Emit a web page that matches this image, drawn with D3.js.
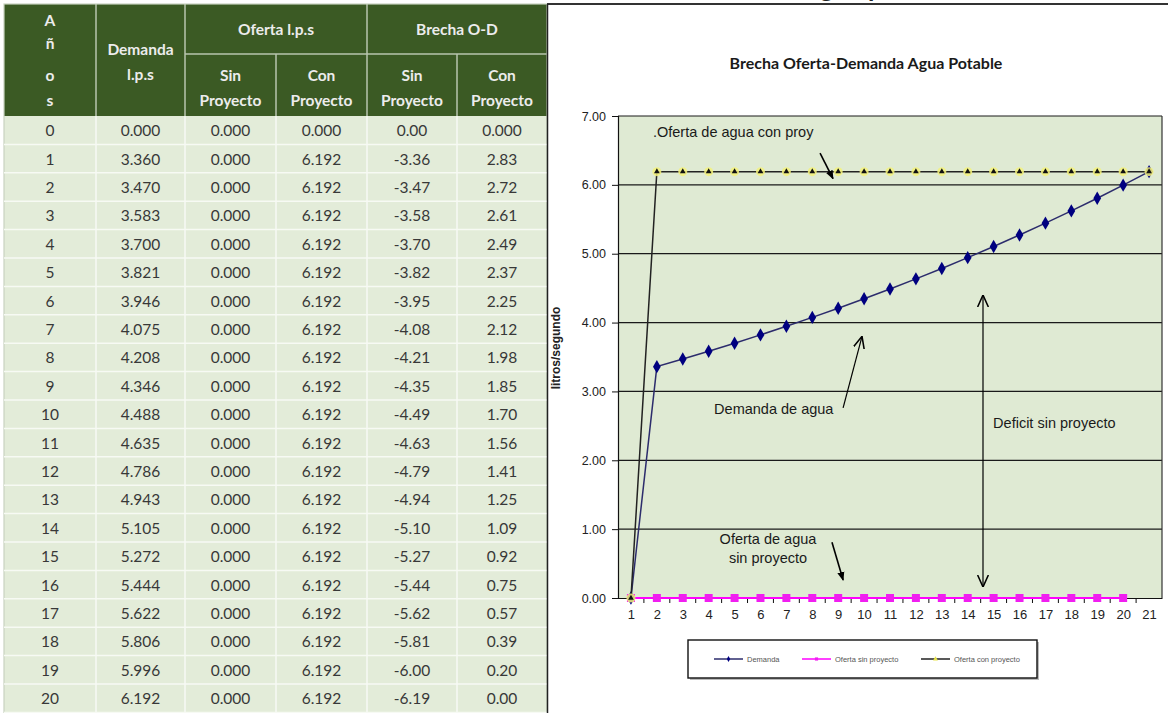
<!DOCTYPE html>
<html>
<head>
<meta charset="utf-8">
<script src="https://cdn.jsdelivr.net/npm/d3@7"></script>
<style>
  body { margin: 0; background: #ffffff; }
  svg { display: block; }
</style>
</head>
<body>
<svg id="chart" width="1168" height="713"></svg>
<script>
// ---- Data ----
const anios = [0, 1, 2, 3, 4, 5, 6, 7, 8, 9, 10, 11, 12, 13, 14, 15, 16, 17, 18, 19, 20];
const demanda = [0.000, 3.360, 3.470, 3.583, 3.700, 3.821, 3.946, 4.075, 4.208, 4.346, 4.488,
                 4.635, 4.786, 4.943, 5.105, 5.272, 5.444, 5.622, 5.806, 5.996, 6.192];
const ofertaSin = [0.000, 0.000, 0.000, 0.000, 0.000, 0.000, 0.000, 0.000, 0.000, 0.000, 0.000,
                   0.000, 0.000, 0.000, 0.000, 0.000, 0.000, 0.000, 0.000, 0.000, 0.000];
const ofertaCon = [0.000, 6.192, 6.192, 6.192, 6.192, 6.192, 6.192, 6.192, 6.192, 6.192, 6.192,
                   6.192, 6.192, 6.192, 6.192, 6.192, 6.192, 6.192, 6.192, 6.192, 6.192];
const brechaSin = [0.00, -3.36, -3.47, -3.58, -3.70, -3.82, -3.95, -4.08, -4.21, -4.35, -4.49,
                   -4.63, -4.79, -4.94, -5.10, -5.27, -5.44, -5.62, -5.81, -6.00, -6.19];
const brechaCon = [0.000, 2.83, 2.72, 2.61, 2.49, 2.37, 2.25, 2.12, 1.98, 1.85, 1.70,
                   1.56, 1.41, 1.25, 1.09, 0.92, 0.75, 0.57, 0.39, 0.20, 0.00];

// chart categories (periods) and y tick values
const periodos = [1, 2, 3, 4, 5, 6, 7, 8, 9, 10, 11, 12, 13, 14, 15, 16, 17, 18, 19, 20, 21];
const yTicks = [0, 1, 2, 3, 4, 5, 6, 7];
const puntosSinProyecto = 20; // the "sin proyecto" series is plotted for the first 20 periods

const svg = d3.select("#chart");

// ================= TABLE =================
const colX = [4, 96, 185, 276, 367, 457, 547];
const headTop = 4, subLine = 54, headBottom = 116, rowH = 28.4;
const headFill = "#3b5a24", bodyFill = "#e3ecd9", headText = "#ececec", bodyText = "#383838";
const tFont = "Lato, 'Open Sans', sans-serif";

const table = svg.append("g");
table.append("rect").attr("x", colX[0]).attr("y", headTop)
  .attr("width", colX[6] - colX[0]).attr("height", headBottom - headTop).attr("fill", headFill);
table.append("rect").attr("x", colX[0]).attr("y", headBottom)
  .attr("width", colX[6] - colX[0]).attr("height", 713 - headBottom).attr("fill", bodyFill);

// header separators
const sepColor = "#b9c6ae";
[1, 2, 4].forEach(i => table.append("line").attr("x1", colX[i]).attr("x2", colX[i])
  .attr("y1", headTop).attr("y2", headBottom).attr("stroke", sepColor).attr("stroke-width", 1.5));
[3, 5].forEach(i => table.append("line").attr("x1", colX[i]).attr("x2", colX[i])
  .attr("y1", subLine).attr("y2", headBottom).attr("stroke", sepColor).attr("stroke-width", 1.5));
table.append("line").attr("x1", colX[2]).attr("x2", colX[6]).attr("y1", subLine).attr("y2", subLine)
  .attr("stroke", sepColor).attr("stroke-width", 1.5);
table.append("rect").attr("x", colX[0]).attr("y", headTop)
  .attr("width", colX[6] - colX[0]).attr("height", 713 - headTop)
  .attr("fill", "none").attr("stroke", "#c9d3c0").attr("stroke-width", 1.2);

function hText(x, y, t) {
  table.append("text").attr("x", x).attr("y", y).attr("text-anchor", "middle")
    .attr("dominant-baseline", "central")
    .attr("font-family", tFont).attr("font-weight", "bold").attr("font-size", 15.5)
    .attr("fill", headText).text(t);
}
const mid = i => (colX[i] + colX[i + 1]) / 2;
["A", "ñ", "o", "s"].forEach((ch, k) => hText(mid(0), [20, 43, 75, 100][k], ch));
hText(mid(1), 49, "Demanda");
hText(mid(1), 74, "l.p.s");
hText((colX[2] + colX[4]) / 2, 29, "Oferta l.p.s");
hText((colX[4] + colX[6]) / 2, 29, "Brecha O-D");
[2, 3, 4, 5].forEach(i => {
  hText(mid(i), 75, i % 2 === 0 ? "Sin" : "Con");
  hText(mid(i), 100, "Proyecto");
});

// body grid
for (let r = 1; r <= anios.length; r++) {
  table.append("line").attr("x1", colX[0]).attr("x2", colX[6])
    .attr("y1", headBottom + r * rowH).attr("y2", headBottom + r * rowH)
    .attr("stroke", "#f7faf4").attr("stroke-width", 1.5);
}
for (let i = 1; i < 6; i++) {
  table.append("line").attr("x1", colX[i]).attr("x2", colX[i])
    .attr("y1", headBottom).attr("y2", 713).attr("stroke", "#f7faf4").attr("stroke-width", 1.5);
}

const fmt3 = v => v.toFixed(3), fmt2 = v => v.toFixed(2);
const columnas = [
  anios.map(String),
  demanda.map(fmt3),
  ofertaSin.map(fmt3),
  ofertaCon.map(fmt3),
  brechaSin.map(fmt2),
  brechaCon.map((v, i) => i === 0 ? fmt3(v) : fmt2(v))
];
columnas.forEach((col, c) => {
  table.selectAll(null).data(col).enter().append("text")
    .attr("x", mid(c)).attr("y", (d, r) => headBottom + r * rowH + rowH / 2)
    .attr("text-anchor", "middle").attr("dominant-baseline", "central")
    .attr("font-family", tFont).attr("font-size", 15.5).attr("fill", bodyText)
    .text(d => d);
});

// ================= CHART =================
// frame around the chart panel
svg.append("line").attr("x1", 547).attr("x2", 1168).attr("y1", 4).attr("y2", 4)
  .attr("stroke", "#333").attr("stroke-width", 2);
svg.append("line").attr("x1", 547.5).attr("x2", 547.5).attr("y1", 4).attr("y2", 713)
  .attr("stroke", "#222").attr("stroke-width", 1.5);
// heading text above the panel, only its lowest strokes fall inside the page
svg.append("text").attr("x", 805).attr("y", -3).attr("text-anchor", "middle")
  .attr("font-family", "Lato, sans-serif").attr("font-weight", "bold").attr("font-size", 26)
  .attr("fill", "#222").text("Demanda de agua potable");

const cFont = "'Liberation Sans', Arial, sans-serif";
const x = d3.scaleLinear().domain([0.5, 21.5]).range([618, 1162]);
const y = d3.scaleLinear().domain([0, 7]).range([598, 116]);

svg.append("text").attr("x", 866).attr("y", 62).attr("text-anchor", "middle")
  .attr("dominant-baseline", "central")
  .attr("font-family", "Lato, sans-serif").attr("font-weight", "bold").attr("font-size", 16)
  .attr("fill", "#1a1a1a").text("Brecha Oferta-Demanda Agua Potable");

// plot background
svg.append("rect").attr("x", x(0.5)).attr("y", y(7))
  .attr("width", x(21.5) - x(0.5)).attr("height", y(0) - y(7)).attr("fill", "#dfead3");

// gridlines
svg.append("g").selectAll("line").data(yTicks.filter(v => v > 0)).enter().append("line")
  .attr("x1", x(0.5)).attr("x2", x(21.5)).attr("y1", d => y(d)).attr("y2", d => y(d))
  .attr("stroke", "#1a1a1a").attr("stroke-width", 1.2);
// plot border (right)
svg.append("line").attr("x1", x(21.5)).attr("x2", x(21.5)).attr("y1", y(7)).attr("y2", y(0))
  .attr("stroke", "#333").attr("stroke-width", 1.2);

// y axis
const yAxis = d3.axisLeft(y).tickValues(yTicks).tickFormat(d => d.toFixed(2)).tickSize(6).tickPadding(6);
const gy = svg.append("g").attr("transform", `translate(${x(0.5)},0)`).call(yAxis);
gy.select(".domain").attr("stroke", "#111").attr("stroke-width", 1.2);
gy.selectAll(".tick line").attr("stroke", "#111");
gy.selectAll("text").attr("font-family", cFont).attr("font-size", 12.5).attr("fill", "#222");

// x axis: labels at categories, tick marks between categories
const xAxis = d3.axisBottom(x).tickValues(periodos).tickSize(0).tickPadding(12).tickFormat(d3.format("d"));
const gx = svg.append("g").attr("transform", `translate(0,${y(0)})`).call(xAxis);
gx.select(".domain").attr("stroke", "#111").attr("stroke-width", 1.2);
gx.selectAll("text").attr("font-family", cFont).attr("font-size", 13).attr("fill", "#222");
const bordes = periodos.map(p => p + 0.5).slice(0, -1);
svg.append("g").selectAll("line").data(bordes).enter().append("line")
  .attr("x1", d => x(d)).attr("x2", d => x(d)).attr("y1", y(0)).attr("y2", y(0) + 5)
  .attr("stroke", "#111").attr("stroke-width", 1);

// y axis title
svg.append("text").attr("transform", `translate(556,348) rotate(-90)`)
  .attr("text-anchor", "middle").attr("dominant-baseline", "central")
  .attr("font-family", cFont).attr("font-weight", "bold").attr("font-size", 12)
  .attr("fill", "#222").text("litros/segundo");

// series
const line = d3.line().x(d => x(d[0])).y(d => y(d[1]));
const serDem = periodos.map((p, i) => [p, demanda[i]]);
const serSin = periodos.slice(0, puntosSinProyecto).map((p, i) => [p, ofertaSin[i]]);
const serCon = periodos.map((p, i) => [p, ofertaCon[i]]);

svg.append("path").datum(serSin).attr("d", line).attr("fill", "none")
  .attr("stroke", "#ff00ff").attr("stroke-width", 2);
svg.append("g").selectAll("path").data(serSin).enter().append("path")
  .attr("transform", d => `translate(${x(d[0])},${y(d[1])})`)
  .attr("d", d3.symbol(d3.symbolSquare, 64)).attr("fill", "#f01ef0");

svg.append("path").datum(serDem).attr("d", line).attr("fill", "none")
  .attr("stroke", "#2c2c6c").attr("stroke-width", 1.5);
svg.append("g").selectAll("path").data(serDem).enter().append("path")
  .attr("transform", d => `translate(${x(d[0])},${y(d[1])})`)
  .attr("d", d3.symbol(d3.symbolDiamond, 52)).attr("fill", "#000080");

svg.append("path").datum(serCon).attr("d", line).attr("fill", "none")
  .attr("stroke", "#222").attr("stroke-width", 1.5);
const tri = svg.append("g").selectAll("g").data(serCon).enter().append("g")
  .attr("transform", d => `translate(${x(d[0])},${y(d[1])})`);
tri.append("circle").attr("r", 4.5).attr("fill", "#f4f27a").attr("opacity", 0.85);
tri.append("path").attr("d", d3.symbol(d3.symbolTriangle, 14)).attr("fill", "#111");

// annotations
const defs = svg.append("defs");
defs.append("marker").attr("id", "flechaLlena").attr("viewBox", "0 0 10 10")
  .attr("refX", 9).attr("refY", 5).attr("markerWidth", 9).attr("markerHeight", 9)
  .attr("markerUnits", "userSpaceOnUse").attr("orient", "auto")
  .append("path").attr("d", "M0,1 L10,5 L0,9 Z").attr("fill", "#000");
defs.append("marker").attr("id", "flechaAbierta").attr("viewBox", "0 0 10 10")
  .attr("refX", 10).attr("refY", 5).attr("markerWidth", 12).attr("markerHeight", 12)
  .attr("markerUnits", "userSpaceOnUse").attr("orient", "auto-start-reverse")
  .append("path").attr("d", "M0,0.5 L10,5 L0,9.5").attr("fill", "none")
  .attr("stroke", "#000").attr("stroke-width", 1.3);

function nota(t, xd, yd, anchor) {
  svg.append("text").attr("x", x(xd)).attr("y", y(yd)).attr("text-anchor", anchor || "start")
    .attr("font-family", cFont).attr("font-size", 14.5).attr("fill", "#1a1a1a").text(t);
}
function flecha(x1, y1, x2, y2, tipo, doble) {
  const l = svg.append("line").attr("x1", x(x1)).attr("y1", y(y1)).attr("x2", x(x2)).attr("y2", y(y2))
    .attr("stroke", "#000").attr("stroke-width", tipo === "llena" ? 1.6 : 1.2)
    .attr("marker-end", `url(#${tipo === "llena" ? "flechaLlena" : "flechaAbierta"})`);
  if (doble) l.attr("marker-start", "url(#flechaAbierta)");
}
nota(".Oferta de agua con proy", 1.85, 6.70);
flecha(8.30, 6.46, 8.80, 6.09, "llena");
nota("Demanda de agua", 4.21, 2.67);
flecha(9.19, 2.76, 9.92, 3.80, "abierta");
nota("Oferta de agua", 6.29, 0.78, "middle");
nota("sin proyecto", 6.29, 0.51, "middle");
flecha(8.76, 0.81, 9.19, 0.26, "llena");
flecha(14.59, 4.40, 14.59, 0.16, "abierta", true);
nota("Deficit sin proyecto", 14.98, 2.47);

// legend
const leg = svg.append("g");
leg.append("rect").attr("x", 690).attr("y", 642).attr("width", 349).attr("height", 38).attr("fill", "#bbb");
leg.append("rect").attr("x", 688).attr("y", 640).attr("width", 349).attr("height", 38)
  .attr("fill", "#fff").attr("stroke", "#111").attr("stroke-width", 1.4);
const items = [
  { t: "Demanda", x0: 714, c: "#2c2c6c", m: d3.symbolDiamond, mc: "#000080" },
  { t: "Oferta sin proyecto", x0: 802, c: "#ff00ff", m: d3.symbolSquare, mc: "#f01ef0" },
  { t: "Oferta con proyecto", x0: 921, c: "#222", m: d3.symbolTriangle, mc: "#e8e44a" }
];
items.forEach(it => {
  leg.append("line").attr("x1", it.x0).attr("x2", it.x0 + 29).attr("y1", 659).attr("y2", 659)
    .attr("stroke", it.c).attr("stroke-width", 1.5);
  leg.append("path").attr("transform", `translate(${it.x0 + 14.5},659)`)
    .attr("d", d3.symbol(it.m, 10)).attr("fill", it.mc);
  leg.append("text").attr("x", it.x0 + 33).attr("y", 659).attr("dominant-baseline", "central")
    .attr("font-family", cFont).attr("font-size", 7.5).attr("fill", "#555").text(it.t);
});
</script>
</body>
</html>
